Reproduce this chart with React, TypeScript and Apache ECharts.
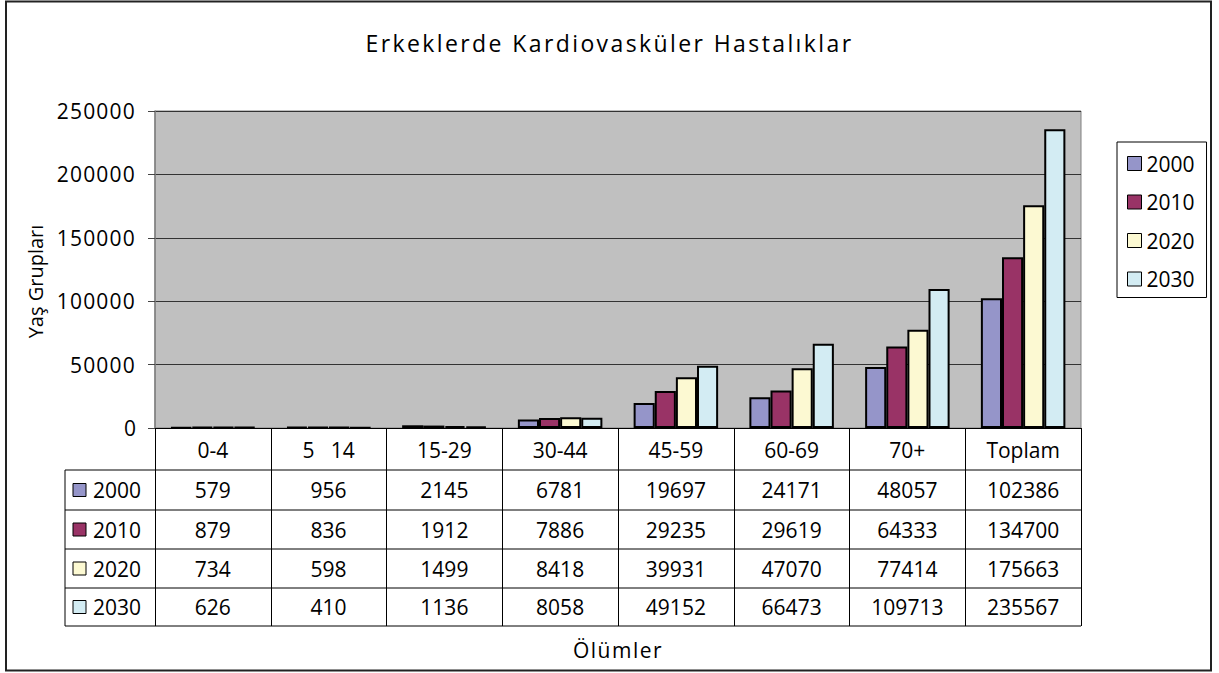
import React, { useEffect, useRef } from "react";
import * as echarts from "echarts";

const TITLE = "Erkeklerde Kardiovasküler Hastalıklar";
const X_NAME = "Ölümler";
const Y_NAME = "Yaş Grupları";
const categories = ["0-4", "5   14", "15-29", "30-44", "45-59", "60-69", "70+", "Toplam"];
const seriesNames = ["2000", "2010", "2020", "2030"];
const v2000 = [579, 956, 2145, 6781, 19697, 24171, 48057, 102386];
const v2010 = [879, 836, 1912, 7886, 29235, 29619, 64333, 134700];
const v2020 = [734, 598, 1499, 8418, 39931, 47070, 77414, 175663];
const v2030 = [626, 410, 1136, 8058, 49152, 66473, 109713, 235567];
const seriesValues = [v2000, v2010, v2020, v2030];
const colors = ["#9595C9", "#993366", "#FCF9D2", "#D3ECF3"];
const yMin = 0;
const yMax = 250000;
const yInterval = 50000;
const yTickLabels = ["50000", "100000", "150000", "200000", "250000"];

const FONT = "Open Sans";
const FS = 21;
const W = 1219;
const H = 673;
const G_LEFT = 155;
const G_TOP = 111;
const G_RIGHT = 1081;
const G_BOTTOM = 428;
const ROW_LINES = [470, 510, 549, 588, 626];
const TABLE_LEFT = 65;

const SPACING: Record<string, string> = {
  [TITLE]: "2.4",
  [X_NAME]: "1.5",
};
yTickLabels.forEach((t) => (SPACING[t] = "1.2"));

export default function App() {
  const ref = useRef<HTMLDivElement>(null);
  useEffect(() => {
    if (!ref.current) return;
    const el = ref.current;
    const chart = echarts.init(el, null, { renderer: "svg", width: W, height: H });
    const colW = (G_RIGHT - G_LEFT) / categories.length;
    const graphics: any[] = [];
    graphics.push({
      type: "rect",
      shape: { x: 6, y: 1.5, width: 1205, height: 669 },
      style: { fill: "none", stroke: "#222", lineWidth: 2 },
      silent: true,
    });
    ROW_LINES.forEach((y) => {
      graphics.push({
        type: "line",
        shape: { x1: TABLE_LEFT, y1: y, x2: G_RIGHT, y2: y },
        style: { stroke: "#000", lineWidth: 1 },
        silent: true,
      });
    });
    graphics.push({
      type: "line",
      shape: { x1: TABLE_LEFT, y1: ROW_LINES[0], x2: TABLE_LEFT, y2: ROW_LINES[ROW_LINES.length - 1] },
      style: { stroke: "#000", lineWidth: 1 },
      silent: true,
    });
    seriesNames.forEach((name, si) => {
      const y0 = ROW_LINES[si];
      const y1 = ROW_LINES[si + 1];
      const cy = (y0 + y1) / 2;
      graphics.push({
        type: "rect",
        shape: { x: 73, y: cy - 6.5, width: 13, height: 13 },
        style: { fill: colors[si], stroke: "#000", lineWidth: 1 },
        silent: true,
      });
      graphics.push({
        type: "text",
        x: 93,
        y: cy,
        style: { text: name, font: `${FS}px '${FONT}'`, fill: "#000", textAlign: "left", textVerticalAlign: "middle" },
        silent: true,
      });
      seriesValues[si].forEach((v, ci) => {
        graphics.push({
          type: "text",
          x: G_LEFT + (ci + 0.5) * colW,
          y: cy,
          style: { text: String(v), font: `${FS}px '${FONT}'`, fill: "#000", textAlign: "center", textVerticalAlign: "middle" },
          silent: true,
        });
      });
    });

    chart.setOption({
      animation: false,
      title: {
        text: TITLE,
        left: "center",
        top: 26,
        textStyle: { fontFamily: FONT, fontSize: 23, fontWeight: "normal", color: "#000" },
      },
      legend: {
        orient: "vertical",
        left: 1117,
        top: 142,
        padding: [11, 12, 8, 10],
        itemGap: 17.5,
        itemWidth: 14,
        itemHeight: 14,
        icon: "rect",
        borderColor: "#000",
        borderWidth: 1,
        backgroundColor: "#fff",
        itemStyle: { borderColor: "#000", borderWidth: 1 },
        textStyle: { fontFamily: FONT, fontSize: FS, color: "#000" },
        data: seriesNames,
      },
      grid: {
        left: G_LEFT,
        top: G_TOP,
        right: W - G_RIGHT,
        bottom: H - G_BOTTOM,
        show: true,
        backgroundColor: "#C0C0C0",
        borderColor: "#808080",
        borderWidth: 1,
      },
      xAxis: {
        type: "category",
        data: categories,
        name: X_NAME,
        nameLocation: "middle",
        nameGap: 211,
        nameTextStyle: { fontFamily: FONT, fontSize: FS, color: "#000" },
        axisLine: { show: true, lineStyle: { color: "#000", width: 1 } },
        axisTick: { show: true, interval: 0, length: 198, lineStyle: { color: "#000", width: 1 } },
        axisLabel: { interval: 0, margin: 11, fontFamily: FONT, fontSize: FS, color: "#000" },
        splitLine: { show: false },
      },
      yAxis: {
        type: "value",
        min: yMin,
        max: yMax,
        interval: yInterval,
        name: Y_NAME,
        nameLocation: "middle",
        nameGap: 110,
        nameTextStyle: { fontFamily: FONT, fontSize: 20, color: "#000", padding: [0, 24, 0, 0] },
        axisLine: { show: true, lineStyle: { color: "#808080", width: 1.5 } },
        axisTick: { show: true, length: 7, lineStyle: { color: "#444" } },
        axisLabel: { margin: 19, fontFamily: FONT, fontSize: FS, color: "#000", formatter: (v: number) => String(v) },
        splitLine: { show: true, lineStyle: { color: "#333", width: 1 } },
      },
      series: seriesNames.map((name, si) => ({
        name,
        type: "bar",
        data: seriesValues[si],
        barGap: "0%",
        barCategoryGap: "27%",
        itemStyle: { color: colors[si], borderColor: "#000", borderWidth: 2 },
        emphasis: { disabled: true },
      })),
      graphic: graphics,
    });

    const applySpacing = () => {
      el.querySelectorAll("text").forEach((t) => {
        const s = SPACING[t.textContent || ""];
        if (s) t.setAttribute("letter-spacing", s);
      });
    };
    applySpacing();
    chart.on("finished", applySpacing);
    const timer = setTimeout(applySpacing, 50);
    return () => {
      clearTimeout(timer);
      chart.dispose();
    };
  }, []);
  return (
    <div
      ref={ref}
      style={{ position: "fixed", left: 0, top: 0, width: W, height: H, background: "#fff" }}
    />
  );
}
